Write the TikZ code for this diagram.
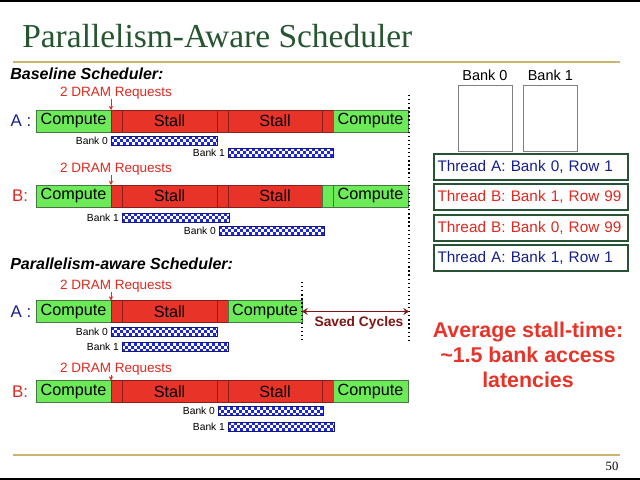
\documentclass[tikz,border=0pt]{standalone}
\usepackage{fontspec}
\setmainfont{Liberation Sans}
\newfontfamily\slidefont{Liberation Serif}
\usetikzlibrary{positioning,arrows.meta}

\definecolor{titlegreen}{RGB}{38,86,48}
\definecolor{rulegold}{RGB}{204,180,110}
\definecolor{computegreen}{RGB}{108,234,88}
\definecolor{computeedge}{RGB}{70,120,70}
\definecolor{stallred}{RGB}{232,52,40}
\definecolor{stalledge}{RGB}{140,30,25}
\definecolor{checkblue}{RGB}{30,40,225}
\definecolor{reqred}{RGB}{222,42,32}
\definecolor{threadblue}{RGB}{22,32,140}
\definecolor{threadedge}{RGB}{40,82,52}
\definecolor{savedred}{RGB}{128,22,22}

\begin{document}
\begin{tikzpicture}[x=0.025cm,y=-0.025cm,
   wd/.style={minimum width=#1*0.025cm},
   ht/.style={minimum height=#1*0.025cm},
   seg/.style={inner sep=0pt,outer sep=0pt,ht=22,font=\fontsize{11.5}{13}\selectfont},
   compute/.style={seg,draw=computeedge,fill=computegreen},
   stall/.style={seg,draw=stalledge,fill=stallred},
   bank/.style={inner sep=0pt,outer sep=0pt,ht=9},
   banklabel/.style={inner sep=0pt,font=\fontsize{7.3}{8}\selectfont},
   request/.style={anchor=base,inner sep=0pt,text=reqred,font=\fontsize{9.6}{11}\selectfont},
   reqarrow/.style={-{Stealth[length=3pt,width=3pt]},reqred,line width=0.5pt},
   heading/.style={anchor=base west,inner sep=0pt,font=\bfseries\itshape\fontsize{11.4}{13}\selectfont},
   rowlabel/.style={inner sep=0pt,font=\fontsize{12}{14}\selectfont},
   thread/.style={draw=threadedge,line width=1.4pt,wd=194,ht=26,text width=187*0.025cm,align=left,inner xsep=3.5*0.025cm,inner ysep=0pt,font=\fontsize{10.9}{12}\selectfont},
   bankbox/.style={draw=gray,wd=54,ht=66,inner sep=0pt},
   saved/.style={{Stealth[length=4pt,width=5pt]}-{Stealth[length=4pt,width=5pt]},savedred,line width=1pt}]

  % page
  \useasboundingbox (0,0) rectangle (640,480);
  \fill[white] (0,0) rectangle (640,480);
  \fill[black] (0,0) rectangle (640,2);
  \fill[black] (0,478) rectangle (640,480);
  \draw[rulegold,line width=1.2pt] (13,62) -- (620,62);
  \draw[rulegold,line width=1pt] (13,455) -- (620,455);
  \node[anchor=base west,inner sep=0pt,text=titlegreen,font=\slidefont\fontsize{23.8}{26}\selectfont] (title) at (22,48) {Parallelism-Aware Scheduler};
  \node[anchor=base,inner sep=0pt,font=\slidefont\fontsize{9}{10}\selectfont] (page) at (612,470) {50};

  % baseline scheduler
  \node[heading] (basehead) at (10,79) {Baseline Scheduler:};

  \node[request] (reqA) at (116,96) {2 DRAM Requests};
  \node[rowlabel,text=threadblue] (labA) at (21,121) {A :};
  \node[compute,wd=75,anchor=west] (a1) at (36,121) {Compute};
  \node[stall,wd=11,right=0pt of a1] (a2) {};
  \node[stall,wd=95,right=0pt of a2] (a3) {Stall};
  \node[stall,wd=11,right=0pt of a3] (a4) {};
  \node[stall,wd=94,right=0pt of a4] (a5) {Stall};
  \node[stall,wd=11,right=0pt of a5] (a6) {};
  \node[compute,wd=75,right=0pt of a6] (a7) {Compute};
  \draw[reqarrow] (reqA.south -| a1.east) -- (a1.north east);
  \node[bank,wd=106,anchor=west] (ab0) at (111,140.5) {};
  \node[bank,wd=105,anchor=west] (ab1) at (228,152.5) {};
  \node[banklabel,left=2pt of ab0] (ab0l) {Bank 0};
  \node[banklabel,left=2pt of ab1] (ab1l) {Bank 1};

  \node[request] (reqB) at (116,172) {2 DRAM Requests};
  \node[rowlabel,text=reqred] (labB) at (20,196) {B:};
  \node[compute,wd=75,anchor=west] (b1) at (36,196) {Compute};
  \node[stall,wd=11,right=0pt of b1] (b2) {};
  \node[stall,wd=95,right=0pt of b2] (b3) {Stall};
  \node[stall,wd=11,right=0pt of b3] (b4) {};
  \node[stall,wd=94,right=0pt of b4] (b5) {Stall};
  \node[compute,wd=11,right=0pt of b5] (b6) {};
  \node[compute,wd=75,right=0pt of b6] (b7) {Compute};
  \draw[reqarrow] (reqB.south -| b1.east) -- (b1.north east);
  \node[bank,wd=107,anchor=west] (bb1) at (122,217.5) {};
  \node[bank,wd=105,anchor=west] (bb0) at (219,230.5) {};
  \node[banklabel,left=2pt of bb1] (bb1l) {Bank 1};
  \node[banklabel,left=2pt of bb0] (bb0l) {Bank 0};

  \draw[dotted,line width=0.9pt] (409,95) -- (409,340);

  % parallelism-aware scheduler
  \node[heading] (parhead) at (10,269) {Parallelism-aware Scheduler:};

  \node[request] (reqPA) at (116,289) {2 DRAM Requests};
  \node[rowlabel,text=threadblue] (labPA) at (21,312) {A :};
  \node[compute,wd=75,anchor=west] (pa1) at (36,311.5) {Compute};
  \node[stall,wd=11,right=0pt of pa1] (pa2) {};
  \node[stall,wd=95,right=0pt of pa2] (pa3) {Stall};
  \node[stall,wd=11,right=0pt of pa3] (pa4) {};
  \node[compute,wd=74,right=0pt of pa4] (pa5) {Compute};
  \draw[reqarrow] (reqPA.south -| pa1.east) -- (pa1.north east);
  \node[bank,wd=106,anchor=west] (pab0) at (111,331.5) {};
  \node[bank,wd=106,anchor=west] (pab1) at (122,347) {};
  \node[banklabel,left=2pt of pab0] (pab0l) {Bank 0};
  \node[banklabel,left=2pt of pab1] (pab1l) {Bank 1};

  \draw[dotted,line width=0.9pt] (302,282) -- (302,340);
  \coordinate (savedend) at (409,311.5);
  \draw[saved] (pa5.east) -- (savedend);
  \node[inner sep=0pt,text=savedred,font=\bfseries\fontsize{9.8}{11}\selectfont] (savedtxt) at (359,323) {Saved Cycles};

  \node[request] (reqPB) at (116,372) {2 DRAM Requests};
  \node[rowlabel,text=reqred] (labPB) at (20,392) {B:};
  \node[compute,wd=75,anchor=west] (pb1) at (36,391.5) {Compute};
  \node[stall,wd=11,right=0pt of pb1] (pb2) {};
  \node[stall,wd=95,right=0pt of pb2] (pb3) {Stall};
  \node[stall,wd=11,right=0pt of pb3] (pb4) {};
  \node[stall,wd=94,right=0pt of pb4] (pb5) {Stall};
  \node[stall,wd=11,right=0pt of pb5] (pb6) {};
  \node[compute,wd=75,right=0pt of pb6] (pb7) {Compute};
  \draw[reqarrow] (reqPB.south -| pb1.east) -- (pb1.north east);
  \node[bank,wd=105,anchor=west] (pbb0) at (218,411) {};
  \node[bank,wd=106,anchor=west] (pbb1) at (228,426.5) {};
  \node[banklabel,left=2pt of pbb0] (pbb0l) {Bank 0};
  \node[banklabel,left=2pt of pbb1] (pbb1l) {Bank 1};

  % checkered bank accesses
  \foreach \b in {ab0,ab1,bb1,bb0,pab0,pab1,pbb0,pbb1} {
    \begin{scope}
      \clip (\b.south west) rectangle (\b.north east);
      \foreach \j/\s in {0/0,3/3,6/0}
        \foreach \i in {0,6,...,108}
          \fill[checkblue] (\b.north west) ++(\i+\s,\j) rectangle ++(3,3);
    \end{scope}
    \draw[checkblue!60!black,line width=0.4pt] (\b.south west) rectangle (\b.north east);
  }

  % banks and request queue
  \node[bankbox] (box0) at (485,118) {};
  \node[bankbox,right=0.27cm of box0] (box1) {};
  \node[above=2.5pt of box0,inner sep=0pt,font=\fontsize{10.3}{12}\selectfont] (bk0) {Bank 0};
  \node[above=3pt of box1,inner sep=0pt,font=\fontsize{10.3}{12}\selectfont] (bk1) {Bank 1};

  \node[thread,text=threadblue] (t1) at (531,167) {Thread A: Bank 0, Row 1};
  \node[thread,text=reqred,below=0.06cm of t1] (t2) {Thread B: Bank 1, Row 99};
  \node[thread,text=reqred,below=0.06cm of t2] (t3) {Thread B: Bank 0, Row 99};
  \node[thread,text=threadblue,below=0.06cm of t3] (t4) {Thread A: Bank 1, Row 1};

  \node[align=center,text=stallred,font=\bfseries\fontsize{15.2}{17.8}\selectfont] (avg) at (528,355) {Average stall-time:\\\textasciitilde1.5 bank access\\latencies};
\end{tikzpicture}
\end{document}
